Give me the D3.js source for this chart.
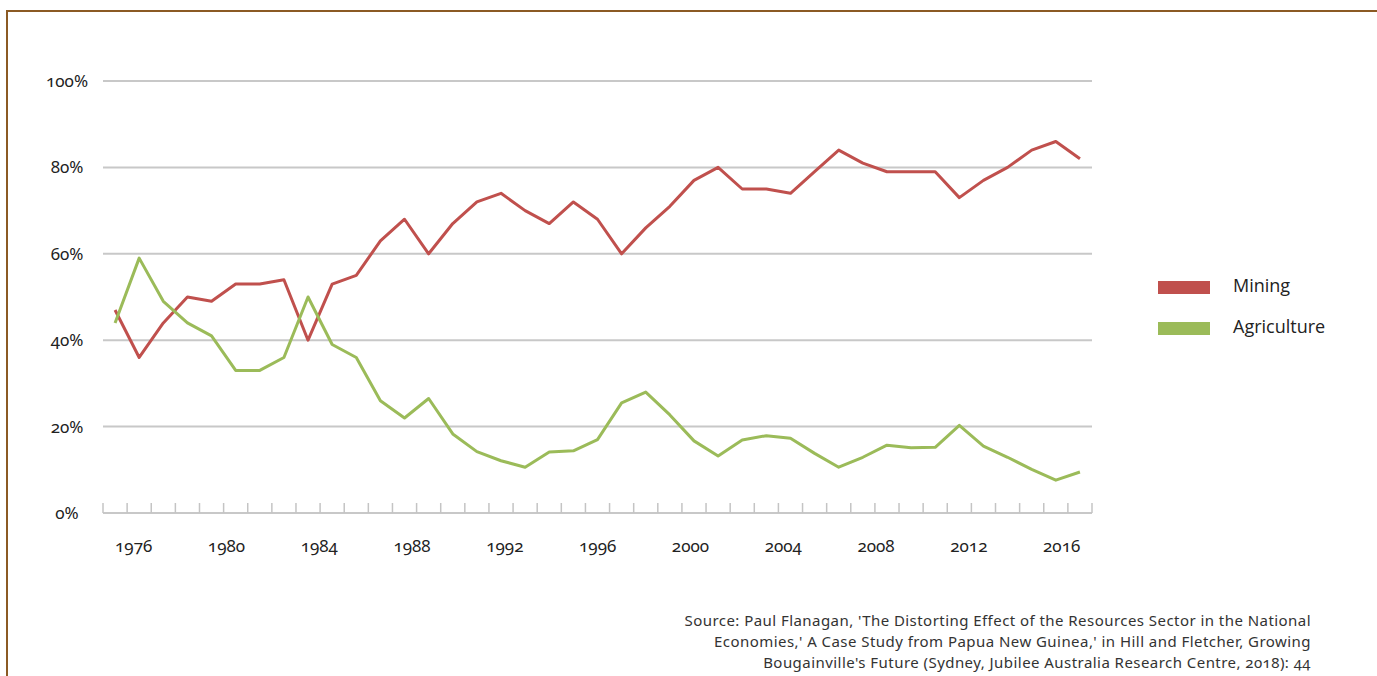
<!DOCTYPE html>
<html>
<head>
<meta charset="utf-8">
<script src="https://cdn.jsdelivr.net/npm/d3@7.9.0/dist/d3.min.js"></script>
<style>
  body { margin: 0; background: #fff; }
  svg { display: block; }
  .num { font-family: "Noto Sans", sans-serif; font-feature-settings: "onum" 1; font-variant-numeric: oldstyle-nums; }
</style>
</head>
<body>
<svg id="chart" width="1377" height="676"></svg>
<script>
// share of exports
const years = [1976, 1977, 1978, 1979, 1980, 1981, 1982, 1983, 1984, 1985, 1986, 1987, 1988, 1989,
  1990, 1991, 1992, 1993, 1994, 1995, 1996, 1997, 1998, 1999, 2000, 2001, 2002, 2003, 2004, 2005,
  2006, 2007, 2008, 2009, 2010, 2011, 2012, 2013, 2014, 2015, 2016];
const mining = [47, 36, 44, 50, 49, 53, 53, 54, 40, 53, 55, 63, 68, 60, 67, 72, 74, 70, 67, 72, 68,
  60, 66, 71, 77, 80, 75, 75, 74, 79, 84, 81, 79, 79, 79, 73, 77, 80, 84, 86, 82];
const agriculture = [44, 59, 49, 44, 41, 33, 33, 36, 50, 39, 36, 26, 22, 26.5, 18.3, 14.2, 12.1, 10.6,
  14.1, 14.4, 17, 25.5, 28, 22.7, 16.7, 13.2, 16.9, 17.9, 17.3, 13.8, 10.6, 12.9, 15.7, 15.1, 15.2,
  20.3, 15.5, 12.9, 10.1, 7.6, 9.5];
const yTicks = [0, 20, 40, 60, 80, 100];
const yearLabels = [1976, 1980, 1984, 1988, 1992, 1996, 2000, 2004, 2008, 2012, 2016];
const seriesNames = ['Mining', 'Agriculture'];
const sourceLines = [
  "Source: Paul Flanagan, 'The Distorting Effect of the Resources Sector in the National",
  "Economies,' A Case Study from Papua New Guinea,' in Hill and Fletcher, Growing",
  "Bougainville's Future (Sydney, Jubilee Australia Research Centre, 2018): 44"
];

const colors = d3.scaleOrdinal(seriesNames, ['#c0504d', '#9bbb59']);
const plotLeft = 103, plotRight = 1092, plotTop = 81, plotBottom = 513;

const svg = d3.select('#chart');

// brown frame round the figure
svg.append('rect')
  .attr('x', 7).attr('y', 11)
  .attr('width', 1420).attr('height', 720)
  .attr('fill', '#fff')
  .attr('stroke', '#8b5a24')
  .attr('stroke-width', 2);

let x = d3.scaleBand().domain(years).range([plotLeft, plotRight]).padding(0);
let y = d3.scaleLinear().domain([0, 100]).range([plotBottom, plotTop]);
// the year labels sit slightly compressed against the categories in the original
let xLabel = d3.scaleLinear().domain([1976, 2016])
  .range([plotLeft + x.bandwidth() * 1.25, plotRight - x.bandwidth() * 1.28]);

// gridlines
svg.append('g')
  .selectAll('line')
  .data(yTicks)
  .join('line')
  .attr('x1', plotLeft).attr('x2', plotRight)
  .attr('y1', (d) => y(d)).attr('y2', (d) => y(d))
  .attr('stroke', '#c8c8c8')
  .attr('stroke-width', 2);

// y labels
svg.append('g')
  .selectAll('text')
  .data(yTicks)
  .join('text')
  .attr('class', 'num')
  .attr('x', 67)
  .attr('y', (d) => y(d))
  .attr('dy', '0.35em')
  .attr('text-anchor', 'middle')
  .attr('font-size', 17)
  .attr('fill', '#222')
  .text((d) => d + '%');

// category ticks between the years, pointing up from the baseline
let boundaries = years.map((d) => x(d)).concat([plotRight]);
svg.append('g')
  .selectAll('line')
  .data(boundaries)
  .join('line')
  .attr('x1', (d) => d).attr('x2', (d) => d)
  .attr('y1', plotBottom).attr('y2', plotBottom - 10)
  .attr('stroke', '#c4c4c4')
  .attr('stroke-width', 1.5);

// x labels
let xAxis = d3.axisBottom(xLabel)
  .tickValues(yearLabels)
  .tickFormat(d3.format('d'))
  .tickSize(0)
  .tickPadding(0);
let xg = svg.append('g')
  .attr('transform', `translate(0, 540)`)
  .call(xAxis);
xg.select('.domain').remove();
xg.selectAll('text')
  .attr('class', 'num')
  .attr('font-size', 17)
  .attr('fill', '#222');

// lines
let line = d3.line()
  .x((d, i) => x(years[i]) + x.bandwidth() / 2)
  .y((d) => y(d));

[mining, agriculture].forEach((values, i) => {
  svg.append('path')
    .datum(values)
    .attr('d', line)
    .attr('fill', 'none')
    .attr('stroke', colors(seriesNames[i]))
    .attr('stroke-width', 3)
    .attr('stroke-linejoin', 'round');
});

// legend
let legend = svg.append('g');
seriesNames.forEach((name, i) => {
  let row = legend.append('g').attr('transform', `translate(1158, ${281 + i * 41})`);
  row.append('rect')
    .attr('width', 52).attr('height', 13)
    .attr('fill', colors(name));
  row.append('text')
    .attr('x', 75).attr('y', 11)
    .attr('font-family', '"Open Sans", sans-serif')
    .attr('font-size', 18)
    .attr('fill', '#222')
    .text(name);
});

// source note
svg.append('g')
  .selectAll('text')
  .data(sourceLines)
  .join('text')
  .attr('class', 'num')
  .attr('x', 1311)
  .attr('y', (d, i) => 626 + i * 21)
  .attr('text-anchor', 'end')
  .attr('font-family', '"Open Sans", sans-serif')
  .attr('font-size', 15)
  .attr('letter-spacing', 0.45)
  .attr('fill', '#333')
  .text((d) => d);
</script>
</body>
</html>
